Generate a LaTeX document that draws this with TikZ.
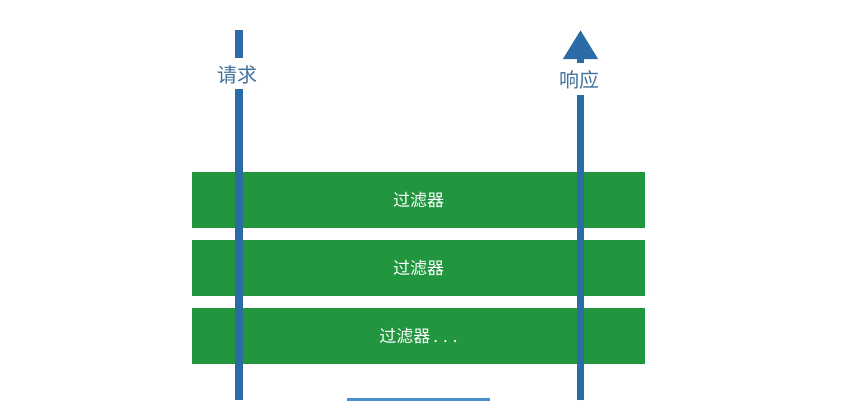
\documentclass[tikz,border=0pt]{standalone}
\usepackage{fontspec}
\newfontfamily\cjk{Noto Sans CJK SC}
\usetikzlibrary{arrows.meta}
\definecolor{flowblue}{HTML}{2B6CA6}
\definecolor{filtergreen}{HTML}{22963F}
\definecolor{labelblue}{HTML}{41719E}
\definecolor{basebl}{HTML}{4A8FD0}
\tikzset{
  filterbox/.style={fill=filtergreen, draw=none, minimum width=453pt, minimum height=56pt, inner sep=0pt,
    text=white, font=\cjk\fontsize{17}{17}\selectfont},
  flowline/.style={draw=flowblue, line width=7.5pt},
  flowlabel/.style={text=labelblue, font=\cjk\fontsize{20}{20}\selectfont, inner sep=0pt},
}
\begin{document}
\begin{tikzpicture}[x=1pt,y=-1pt]
\useasboundingbox (0,0) rectangle (842,400);
\fill[white] (0,0) rectangle (842,400);
% filter boxes
\node[filterbox] (f1) at (418.5,200) {过滤器};
\node[filterbox] (f2) at (418.5,268) {过滤器};
\node[filterbox] (f3) at (418.5,336) {过滤器\hspace{3pt}.\hspace{5pt}.\hspace{5pt}.};
% bottom box (partially visible)
\node[fill=basebl, draw=none, minimum width=143pt, minimum height=10pt, inner sep=0pt, anchor=north west] (base) at (347,398) {};
% labels
\node[flowlabel] (req) at (237,75) {请求};
\node[flowlabel] (resp) at (579,80) {响应};
% coordinates
\coordinate (reqtop) at (239,30);
\coordinate (reqa) at (239,58);
\coordinate (reqb) at (239,89);
\coordinate (reqbot) at (239,400);
\coordinate (resptip) at (580.5,30);
\coordinate (respa) at (580.5,63);
\coordinate (respb) at (580.5,95);
\coordinate (respbot) at (580.5,400);
% lines
\draw[flowline] (reqtop) -- (reqa);
\draw[flowline] (reqb) -- (reqbot);
\draw[flowline] (respbot) -- (respb);
\draw[flowline, -{Triangle[length=29pt,width=33pt]}] (respa) -- (resptip);
\end{tikzpicture}
\end{document}
